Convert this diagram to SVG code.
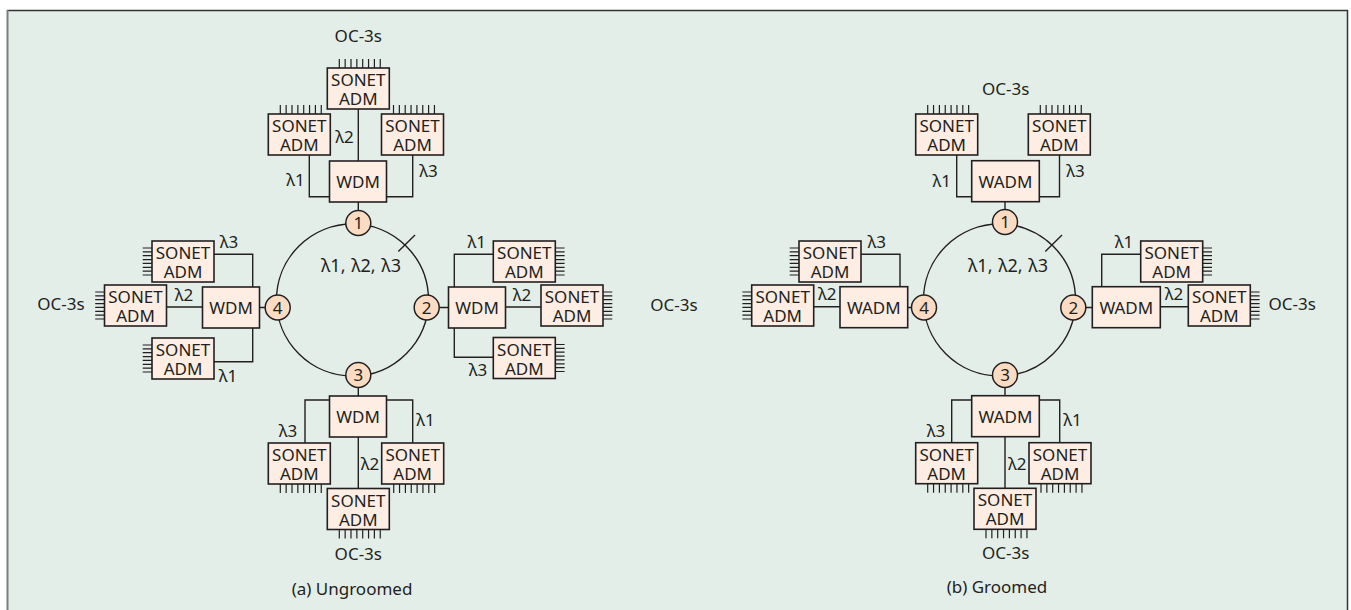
<svg xmlns="http://www.w3.org/2000/svg" xmlns:xlink="http://www.w3.org/1999/xlink" width="1351" height="610" viewBox="0 0 1351 610">
<style>
.box{fill:#fdede3;stroke:#231f20;stroke-width:1.6}
.nd{fill:#fbdcc3;stroke:#231f20;stroke-width:1.5}
.ln{fill:none;stroke:#231f20;stroke-width:1.4}
.tk{stroke:#231f20;stroke-width:1.2}
.t{font-family:"Noto Sans","Open Sans",sans-serif;font-size:17px;fill:#231f20;text-anchor:middle}
.rl{font-size:18px;word-spacing:1px}
</style>
<defs>
<g id="vt" class="tk"><path d="M0.5 0v9M6.35 0v9M12.2 0v9M18.05 0v9M23.9 0v9M29.75 0v9M35.6 0v9M41.45 0v9"/></g>
<g id="ht" class="tk"><path d="M0 0.5h9.3M0 4.36h9.3M0 8.22h9.3M0 12.08h9.3M0 15.94h9.3M0 19.8h9.3M0 23.66h9.3M0 27.5h9.3"/></g>
</defs>
<rect x="0" y="0" width="1351" height="610" fill="#ffffff"/>
<rect x="7" y="10" width="1341" height="605" fill="#e4eee9"/>
<path d="M7 10.5H1348" stroke="#333" stroke-width="1.5"/>
<path d="M7.5 10V610" stroke="#7a7f7c" stroke-width="2"/>
<path d="M1347.5 10V610" stroke="#333" stroke-width="1.5"/>

<!-- Panel (a) -->
<g id="panel-a">
<g id="a-connectors">
<circle class="ln" cx="352.5" cy="300" r="76"/>
<path class="ln" d="M398.3 251.5L415 235"/>
<path class="ln" d="M358.3 109V161M309.3 155V196.7H329.5M412.7 155V196.7H386.5M358.3 202V210.5"/>
<path class="ln" d="M214 254.3H252.7V287M214 361.7H252.7V327.5M166.5 307H202.5M259.5 307.5H265.2"/>
<path class="ln" d="M454.3 287V254.3H493.3M454.3 328V357.3H493.3M505.5 307H541M439.2 307.5H448.5"/>
<path class="ln" d="M358.3 387.5V396M329.5 400H305V443M386.5 400H412.7V443M358.3 437V488.5"/>
</g>
<g id="a-labels">
<text class="t rl" x="361" y="271.7">λ1, λ2, λ3</text>
<text class="t" x="295.5" y="186">λ1</text>
<text class="t" x="344.5" y="142.7">λ2</text>
<text class="t" x="428.5" y="176.7">λ3</text>
<text class="t" x="229" y="248.3">λ3</text>
<text class="t" x="184" y="300.7">λ2</text>
<text class="t" x="228" y="381.7">λ1</text>
<text class="t" x="476.7" y="248">λ1</text>
<text class="t" x="522" y="300.5">λ2</text>
<text class="t" x="478" y="376">λ3</text>
<text class="t" x="288" y="436.7">λ3</text>
<text class="t" x="425.5" y="426">λ1</text>
<text class="t" x="370" y="470">λ2</text>
<text class="t" x="358.3" y="42">OC-3s</text>
<text class="t" x="61" y="310">OC-3s</text>
<text class="t" x="674" y="310.7">OC-3s</text>
<text class="t" x="358.3" y="560">OC-3s</text>
<text class="t" x="352" y="595">(a) Ungroomed</text>
</g>
<g id="a-s-top"><rect class="box" x="327.3" y="68" width="62" height="41"/><text class="t" x="358.3" y="86">SONET<tspan x="358.3" dy="19">ADM</tspan></text><use xlink:href="#vt" x="338.8" y="59"/></g>
<g id="a-s-tl"><rect class="box" x="268.3" y="114" width="62" height="41"/><text class="t" x="299.3" y="132">SONET<tspan x="299.3" dy="19">ADM</tspan></text><use xlink:href="#vt" x="279.8" y="105"/></g>
<g id="a-s-tr"><rect class="box" x="381.5" y="114" width="62" height="41"/><text class="t" x="412.5" y="132">SONET<tspan x="412.5" dy="19">ADM</tspan></text><use xlink:href="#vt" x="393" y="105"/></g>
<g id="a-wdm-1"><rect class="box" x="329.5" y="161" width="57" height="41"/><text class="t" x="358" y="188">WDM</text></g>
<g id="a-n1"><circle class="nd" cx="358.3" cy="223" r="12.5"/><text class="t" x="358.3" y="229">1</text></g>

<g id="a-s-l1"><rect class="box" x="152" y="241" width="62" height="41"/><text class="t" x="183" y="259">SONET<tspan x="183" dy="19">ADM</tspan></text><use xlink:href="#ht" x="142.7" y="247.5"/></g>
<g id="a-s-l2"><rect class="box" x="104.5" y="285" width="62" height="41"/><text class="t" x="135.5" y="303">SONET<tspan x="135.5" dy="19">ADM</tspan></text><use xlink:href="#ht" x="95.2" y="291.5"/></g>
<g id="a-s-l3"><rect class="box" x="152" y="338" width="62" height="41"/><text class="t" x="183" y="356">SONET<tspan x="183" dy="19">ADM</tspan></text><use xlink:href="#ht" x="142.7" y="344.5"/></g>
<g id="a-wdm-4"><rect class="box" x="202.5" y="287" width="57" height="41"/><text class="t" x="231" y="314">WDM</text></g>
<g id="a-n4"><circle class="nd" cx="277.7" cy="307.5" r="12.5"/><text class="t" x="277.7" y="313.5">4</text></g>

<g id="a-wdm-2"><rect class="box" x="448.5" y="287" width="57" height="41"/><text class="t" x="477" y="314">WDM</text></g>
<g id="a-s-r1"><rect class="box" x="493.3" y="241" width="62" height="41"/><text class="t" x="524.3" y="259">SONET<tspan x="524.3" dy="19">ADM</tspan></text><use xlink:href="#ht" x="555.3" y="247.5"/></g>
<g id="a-s-r2"><rect class="box" x="541" y="285" width="62" height="41"/><text class="t" x="572" y="303">SONET<tspan x="572" dy="19">ADM</tspan></text><use xlink:href="#ht" x="603" y="291.5"/></g>
<g id="a-s-r3"><rect class="box" x="493.3" y="337.5" width="62" height="41"/><text class="t" x="524.3" y="355.5">SONET<tspan x="524.3" dy="19">ADM</tspan></text><use xlink:href="#ht" x="555.3" y="344"/></g>
<g id="a-n2"><circle class="nd" cx="426.7" cy="307.5" r="12.5"/><text class="t" x="426.7" y="313.5">2</text></g>

<g id="a-n3"><circle class="nd" cx="358.3" cy="375" r="12.5"/><text class="t" x="358.3" y="381">3</text></g>
<g id="a-wdm-3"><rect class="box" x="329.5" y="396" width="57" height="41"/><text class="t" x="358" y="423">WDM</text></g>
<g id="a-s-bl"><rect class="box" x="268.3" y="443" width="62" height="41"/><text class="t" x="299.3" y="461">SONET<tspan x="299.3" dy="19">ADM</tspan></text><use xlink:href="#vt" x="279.8" y="484"/></g>
<g id="a-s-br"><rect class="box" x="381.7" y="443" width="62" height="41"/><text class="t" x="412.7" y="461">SONET<tspan x="412.7" dy="19">ADM</tspan></text><use xlink:href="#vt" x="393.2" y="484"/></g>
<g id="a-s-bb"><rect class="box" x="327.3" y="488.5" width="62" height="41"/><text class="t" x="358.3" y="506.5">SONET<tspan x="358.3" dy="19">ADM</tspan></text><use xlink:href="#vt" x="338.8" y="529.5"/></g>
</g>

<!-- Panel (b) -->
<g id="panel-b" transform="translate(647,0)">
<g id="b-connectors">
<circle class="ln" cx="352.5" cy="300" r="76"/>
<path class="ln" d="M398.3 251.5L415 235"/>
<path class="ln" d="M309.7 155V196.7H324.7M412.5 155V196.7H392.3M358 201.7V209.5"/>
<path class="ln" d="M214 254.3H253V286.7M166.7 306.7H193M260.7 307.5H264.5"/>
<path class="ln" d="M454.7 286.7V254.3H493.7M513.3 306.7H541.3M438.8 307.5H445.3"/>
<path class="ln" d="M358 387.5V395.7M324.7 400H304.7V442.7M392.3 400H412.7V442.7M358 436.7V488.3"/>
</g>
<g id="b-labels">
<text class="t rl" x="361" y="271.7">λ1, λ2, λ3</text>
<text class="t" x="294.7" y="186.7">λ1</text>
<text class="t" x="428.5" y="176.7">λ3</text>
<text class="t" x="229.7" y="248.3">λ3</text>
<text class="t" x="180.3" y="300">λ2</text>
<text class="t" x="477" y="248">λ1</text>
<text class="t" x="527" y="300">λ2</text>
<text class="t" x="289" y="436.7">λ3</text>
<text class="t" x="425.5" y="426">λ1</text>
<text class="t" x="370.3" y="470">λ2</text>
<text class="t" x="358.7" y="95">OC-3s</text>
<text class="t" x="645.2" y="310">OC-3s</text>
<text class="t" x="358.7" y="559.3">OC-3s</text>
<text class="t" x="350" y="593">(b) Groomed</text>
</g>
<g id="b-s-tl"><rect class="box" x="268.7" y="114" width="62" height="41"/><text class="t" x="299.7" y="132">SONET<tspan x="299.7" dy="19">ADM</tspan></text><use xlink:href="#vt" x="280.2" y="105"/></g>
<g id="b-s-tr"><rect class="box" x="381.3" y="114" width="62" height="41"/><text class="t" x="412.3" y="132">SONET<tspan x="412.3" dy="19">ADM</tspan></text><use xlink:href="#vt" x="392.8" y="105"/></g>
<g id="b-wadm-1"><rect class="box" x="324.7" y="160.7" width="67.6" height="41"/><text class="t" x="358.5" y="187.7">WADM</text></g>
<g id="b-n1"><circle class="nd" cx="358" cy="222" r="12.5"/><text class="t" x="358" y="228">1</text></g>

<g id="b-s-l1"><rect class="box" x="152" y="241" width="62" height="41"/><text class="t" x="183" y="259">SONET<tspan x="183" dy="19">ADM</tspan></text><use xlink:href="#ht" x="142.7" y="247.5"/></g>
<g id="b-s-l2"><rect class="box" x="104.7" y="285" width="62" height="41"/><text class="t" x="135.7" y="303">SONET<tspan x="135.7" dy="19">ADM</tspan></text><use xlink:href="#ht" x="95.4" y="291.5"/></g>
<g id="b-wadm-4"><rect class="box" x="193" y="286.7" width="67.7" height="41"/><text class="t" x="226.8" y="313.7">WADM</text></g>
<g id="b-n4"><circle class="nd" cx="277" cy="307.5" r="12.5"/><text class="t" x="277" y="313.5">4</text></g>

<g id="b-wadm-2"><rect class="box" x="445.3" y="286.7" width="68" height="41"/><text class="t" x="479.3" y="313.7">WADM</text></g>
<g id="b-s-r1"><rect class="box" x="493.7" y="241" width="62" height="41"/><text class="t" x="524.7" y="259">SONET<tspan x="524.7" dy="19">ADM</tspan></text><use xlink:href="#ht" x="555.7" y="247.5"/></g>
<g id="b-s-r2"><rect class="box" x="541.3" y="285" width="62" height="41"/><text class="t" x="572.3" y="303">SONET<tspan x="572.3" dy="19">ADM</tspan></text><use xlink:href="#ht" x="603.3" y="291.5"/></g>
<g id="b-n2"><circle class="nd" cx="426.3" cy="307.5" r="12.5"/><text class="t" x="426.3" y="313.5">2</text></g>

<g id="b-n3"><circle class="nd" cx="358" cy="375" r="12.5"/><text class="t" x="358" y="381">3</text></g>
<g id="b-wadm-3"><rect class="box" x="324.7" y="395.7" width="67.6" height="41"/><text class="t" x="358.5" y="422.7">WADM</text></g>
<g id="b-s-bl"><rect class="box" x="268.7" y="442.7" width="62" height="41"/><text class="t" x="299.7" y="460.7">SONET<tspan x="299.7" dy="19">ADM</tspan></text><use xlink:href="#vt" x="280.2" y="483.7"/></g>
<g id="b-s-br"><rect class="box" x="382" y="442.7" width="62" height="41"/><text class="t" x="413" y="460.7">SONET<tspan x="413" dy="19">ADM</tspan></text><use xlink:href="#vt" x="393.5" y="483.7"/></g>
<g id="b-s-bb"><rect class="box" x="327" y="488.3" width="62" height="41"/><text class="t" x="358" y="506.3">SONET<tspan x="358" dy="19">ADM</tspan></text><use xlink:href="#vt" x="338.5" y="529.3"/></g>
</g>
</svg>
